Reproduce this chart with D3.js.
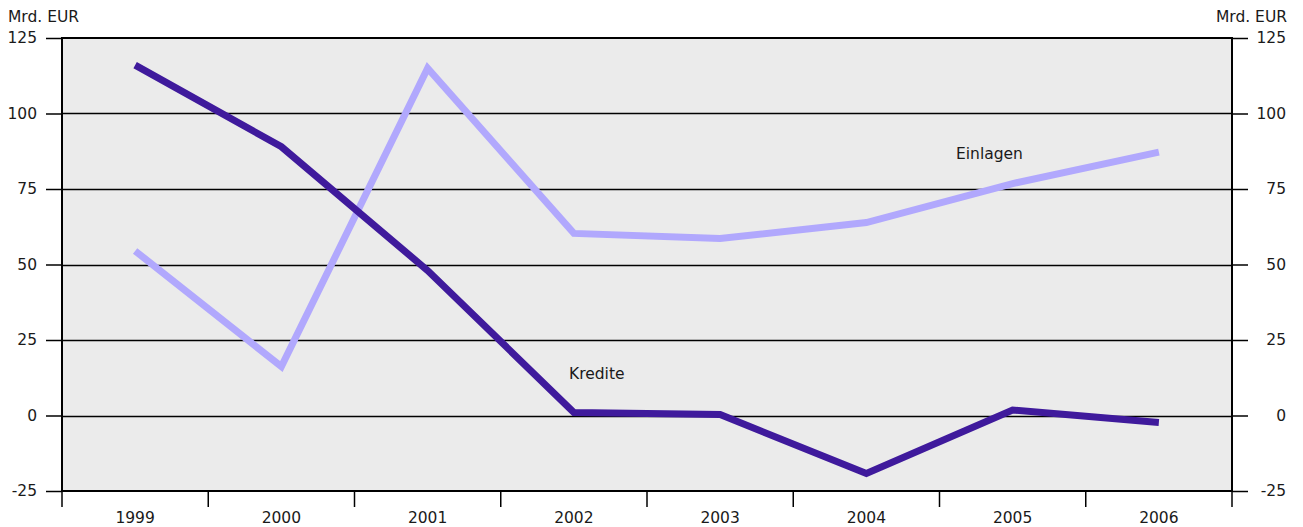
<!DOCTYPE html>
<html><head><meta charset="utf-8">
<script src="https://cdn.jsdelivr.net/npm/d3@7"></script>
<style>body{margin:0;background:#fff;} text{font-family:"DejaVu Sans",sans-serif;font-size:15.5px;fill:#1a1a1a;}</style>
</head><body><svg id="c" width="1303" height="527"></svg>
<script>
const years = ["1999","2000","2001","2002","2003","2004","2005","2006"];
const kredite = [116, 89, 48, 1, 0.3, -19.2, 1.8, -2.3];
const einlagen = [54.5, 16.2, 115, 60.3, 58.6, 63.9, 76.8, 87.2];
const yTicks = [-25, 0, 25, 50, 75, 100, 125];

const svg = d3.select("#c");
const L = 62, R = 1232, T = 38, B = 491;
const x = d3.scaleBand().domain(years).range([L, R]);
const y = d3.scaleLinear().domain([-25, 125]).range([B, T]);
const fmt = d => String(d);

svg.append("rect").attr("x", L).attr("y", T).attr("width", R - L).attr("height", B - T).attr("fill", "#ebebeb");

// gridlines
svg.append("g").selectAll("line").data(yTicks.filter(d => d > -25 && d < 125)).join("line")
  .attr("x1", L).attr("x2", R).attr("y1", d => Math.round(y(d)) + 0.5).attr("y2", d => Math.round(y(d)) + 0.5)
  .attr("stroke", "#000").attr("stroke-width", 1.3);
svg.append("line").attr("x1", L).attr("x2", R).attr("y1", y(125)).attr("y2", y(125)).attr("stroke", "#000").attr("stroke-width", 2);

// left axis
const la = svg.append("g").attr("transform", `translate(${L},0)`)
  .call(d3.axisLeft(y).tickValues(yTicks).tickSize(16).tickPadding(9).tickFormat(fmt));
la.select(".domain").remove();
la.selectAll("line").attr("stroke-width", 1.5);
svg.append("line").attr("x1", L).attr("x2", L).attr("y1", T - 1).attr("y2", B + 1).attr("stroke", "#000").attr("stroke-width", 2);

// right axis
const ra = svg.append("g").attr("transform", `translate(${R},0)`)
  .call(d3.axisRight(y).tickValues(yTicks).tickSize(16).tickPadding(10).tickFormat(fmt));
ra.select(".domain").remove();
ra.selectAll("line").attr("stroke-width", 1.5);
ra.selectAll("text").attr("text-anchor", "end").attr("x", 54);
svg.append("line").attr("x1", R).attr("x2", R).attr("y1", T - 1).attr("y2", B + 1).attr("stroke", "#000").attr("stroke-width", 2);

// bottom axis
svg.append("line").attr("x1", L - 1).attr("x2", R + 1).attr("y1", B).attr("y2", B).attr("stroke", "#000").attr("stroke-width", 2);
const bounds = years.map(d => x(d)).concat([R]);
svg.append("g").selectAll("line").data(bounds).join("line")
  .attr("x1", d => d).attr("x2", d => d).attr("y1", B).attr("y2", B + 16)
  .attr("stroke", "#000").attr("stroke-width", 1.5);
svg.append("g").selectAll("text").data(years).join("text")
  .attr("x", d => x(d) + x.bandwidth() / 2).attr("y", 523).attr("text-anchor", "middle").text(d => d);

svg.selectAll(".tick text").style("font-size", "15.5px").attr("fill", "#1a1a1a");

// units
svg.append("text").attr("x", 8).attr("y", 22).text("Mrd. EUR");
svg.append("text").attr("x", 1287).attr("y", 22).attr("text-anchor", "end").text("Mrd. EUR");

const line = d3.line().x((d, i) => x(years[i]) + x.bandwidth() / 2).y(d => y(d));
svg.append("path").datum(einlagen).attr("d", line).attr("fill", "none")
  .attr("stroke", "#b1a8fd").attr("stroke-width", 7).attr("stroke-linejoin", "miter");
svg.append("path").datum(kredite).attr("d", line).attr("fill", "none")
  .attr("stroke", "#3f1a9c").attr("stroke-width", 7).attr("stroke-linejoin", "miter");

svg.append("text").attr("x", 569).attr("y", 379).text("Kredite");
svg.append("text").attr("x", 956).attr("y", 159).text("Einlagen");
</script></body></html>
